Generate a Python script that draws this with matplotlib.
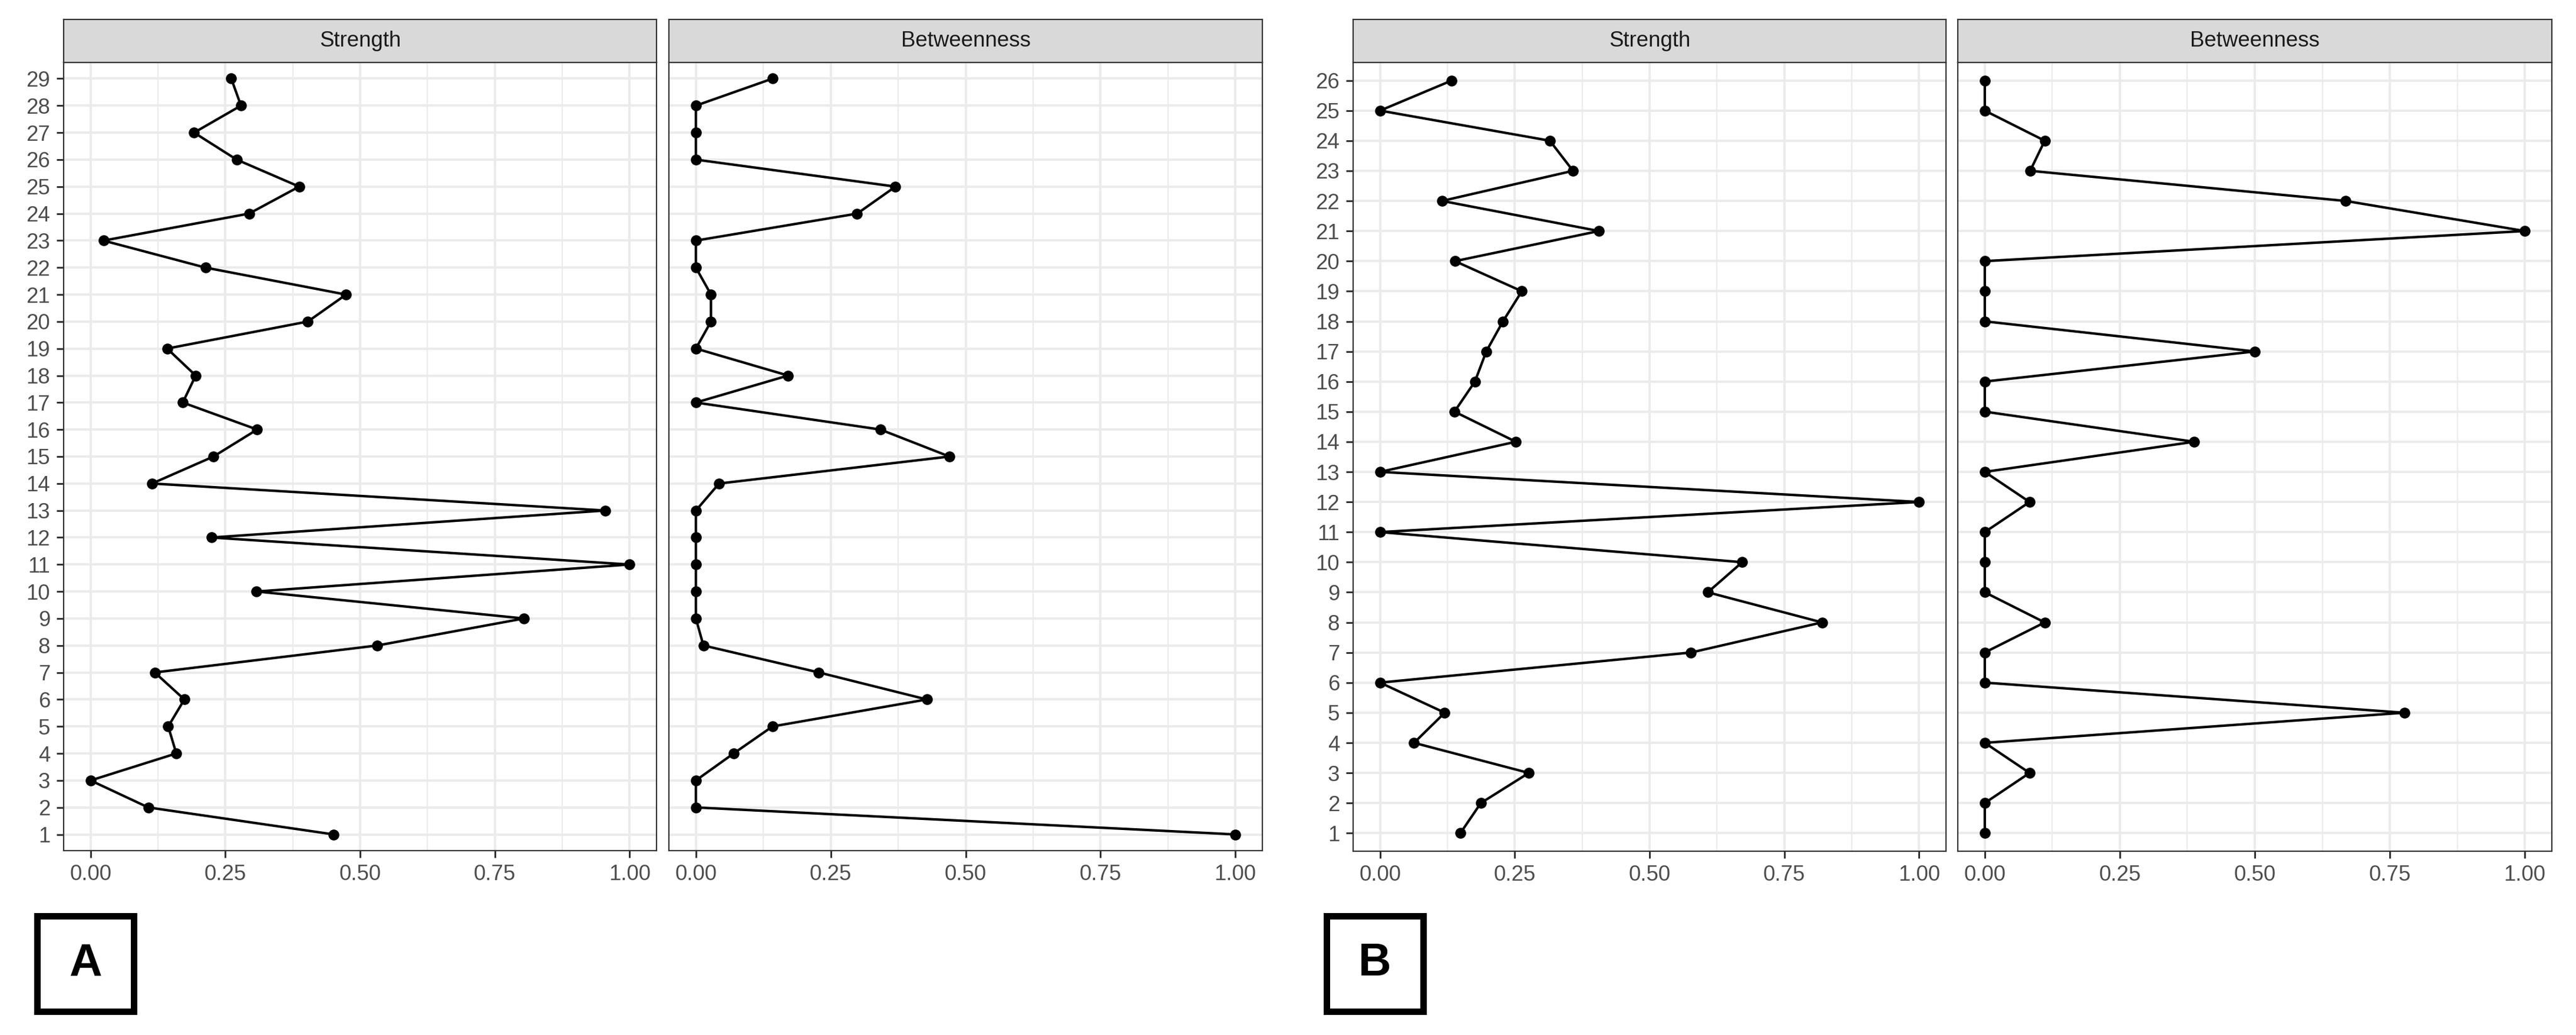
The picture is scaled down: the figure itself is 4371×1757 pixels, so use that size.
import matplotlib
matplotlib.use("Agg")
import matplotlib.pyplot as plt
from matplotlib.patches import Rectangle
from matplotlib.ticker import FixedLocator

plt.rcParams['font.family'] = ['Liberation Sans', 'DejaVu Sans']

# ---------------- data ----------------
nodes_A = list(range(1, 30))
strength_A = [0.451, 0.107, 0.0, 0.159, 0.144, 0.174, 0.119, 0.532, 0.804, 0.308,
              1.0, 0.224, 0.955, 0.114, 0.228, 0.309, 0.171, 0.195, 0.142, 0.403,
              0.474, 0.213, 0.024, 0.294, 0.387, 0.271, 0.192, 0.279, 0.261]
betweenness_A = [1.0, 0.0, 0.0, 0.070, 0.142, 0.428, 0.228, 0.014, 0.0, 0.0,
                 0.0, 0.0, 0.0, 0.043, 0.470, 0.342, 0.0, 0.171, 0.0, 0.028,
                 0.028, 0.0, 0.0, 0.299, 0.370, 0.0, 0.0, 0.0, 0.142]

nodes_B = list(range(1, 27))
strength_B = [0.149, 0.187, 0.276, 0.063, 0.120, 0.0, 0.577, 0.820, 0.608, 0.672,
              0.0, 1.0, 0.0, 0.252, 0.138, 0.176, 0.197, 0.228, 0.263, 0.139,
              0.406, 0.115, 0.358, 0.315, 0.0, 0.133]
betweenness_B = [0.0, 0.0, 0.083, 0.0, 0.777, 0.0, 0.0, 0.111, 0.0, 0.0,
                 0.0, 0.083, 0.0, 0.388, 0.0, 0.0, 0.500, 0.0, 0.0, 0.0,
                 1.0, 0.668, 0.084, 0.111, 0.0, 0.0]

facet_titles = ["Strength", "Betweenness"]
x_ticks = [0.0, 0.25, 0.5, 0.75, 1.0]
x_tick_labels = ["0.00", "0.25", "0.50", "0.75", "1.00"]
x_minor = [0.125, 0.375, 0.625, 0.875]
panel_labels = ["A", "B"]

# ---------------- layout ----------------
W, H = 4371, 1757
DPI = 300
fig = plt.figure(figsize=(W / DPI, H / DPI), dpi=DPI)
fig.patch.set_facecolor("white")

PX = 72.0 / DPI  # points per pixel

def fr(x0, y0, x1, y1):
    return [x0 / W, 1 - y1 / H, (x1 - x0) / W, (y1 - y0) / H]

GRID = "#EBEBEB"
BORDER = "#333333"
TICKC = "#4D4D4D"
STRIPF = "#D9D9D9"
FS = 8.8

panel_top, strip_top = 106, 33
groups = [
    (nodes_A, [strength_A, betweenness_A], [(108, 1114), (1135, 2142)], 1444, (57, 232)),
    (nodes_B, [strength_B, betweenness_B], [(2296, 3302), (3322, 4330)], 1445, (2245, 2420)),
]

for gi, (nodes, series, xs, pbot, box) in enumerate(groups):
    n = len(nodes)
    for j, (vals, (x0, x1)) in enumerate(zip(series, xs)):
        ax = fig.add_axes(fr(x0, panel_top, x1, pbot))
        ax.set_xlim(-0.05, 1.05)
        ax.set_ylim(0.4, n + 0.6)
        ax.set_facecolor("white")
        # grid
        for xm in x_minor:
            ax.axvline(xm, color=GRID, lw=2.3 * PX, zorder=0)
        for xt in x_ticks:
            ax.axvline(xt, color=GRID, lw=4.0 * PX, zorder=0)
        for yv in nodes:
            ax.axhline(yv, color=GRID, lw=4.0 * PX, zorder=0)
        # data
        ax.plot(vals, nodes, color="black", lw=4.2 * PX, zorder=3,
                solid_joinstyle="round", solid_capstyle="round")
        ax.plot(vals, nodes, linestyle="none", marker="o", color="black",
                markersize=17 * PX, markeredgewidth=1.5 * PX, zorder=4)
        for s in ax.spines.values():
            s.set_color(BORDER)
            s.set_linewidth(2.2 * PX)
            s.set_zorder(5)
        ax.xaxis.set_major_locator(FixedLocator(x_ticks))
        ax.set_xticklabels(x_tick_labels)
        ax.tick_params(axis="x", length=12 * PX, width=3 * PX, color=BORDER,
                       labelsize=FS, labelcolor=TICKC, pad=2.6)
        if j == 0:
            ax.yaxis.set_major_locator(FixedLocator(nodes))
            ax.set_yticklabels([str(v) for v in nodes])
            ax.tick_params(axis="y", length=12 * PX, width=3 * PX, color=BORDER,
                           labelsize=FS, labelcolor=TICKC, pad=2.6)
        else:
            ax.set_yticks([])
        # strip
        sax = fig.add_axes(fr(x0, strip_top, x1, panel_top))
        sax.set_facecolor(STRIPF)
        sax.set_xticks([])
        sax.set_yticks([])
        for s in sax.spines.values():
            s.set_color(BORDER)
            s.set_linewidth(2.2 * PX)
        sax.text(0.5, 0.5, facet_titles[j], transform=sax.transAxes,
                 ha="center", va="center", fontsize=FS, color="#1A1A1A")

    # panel label box
    bx0, bx1 = box
    by0, by1 = 1549, 1722
    lw_px = 11
    rect = Rectangle(((bx0 + lw_px / 2) / W, 1 - (by1 - lw_px / 2) / H),
                     (bx1 - bx0 - lw_px) / W, (by1 - by0 - lw_px) / H,
                     transform=fig.transFigure, facecolor="white",
                     edgecolor="black", linewidth=lw_px * PX, zorder=5)
    fig.patches.append(rect)
    fig.text((bx0 + bx1) / 2 / W, 1 - (by0 + by1) / 2 / H, panel_labels[gi],
             ha="center", va="center", fontsize=18.5, fontweight="bold",
             color="black", zorder=6)

fig.savefig("out.png", dpi=DPI, facecolor="white")
